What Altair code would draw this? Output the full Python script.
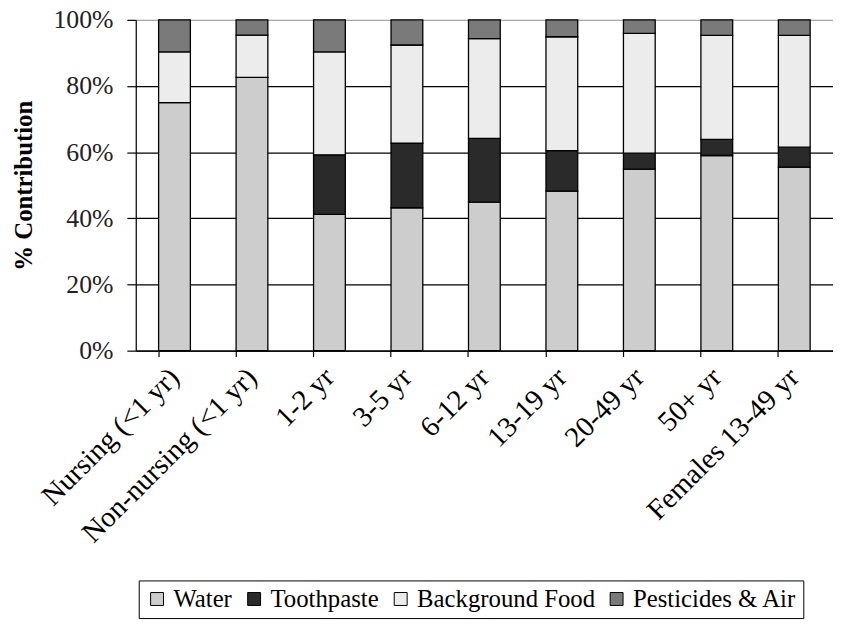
import altair as alt
import pandas as pd

categories = ["Nursing (<1 yr)", "Non-nursing (<1 yr)", "1-2 yr", "3-5 yr",
              "6-12 yr", "13-19 yr", "20-49 yr", "50+ yr", "Females 13-49 yr"]
sources = ["Water", "Toothpaste", "Background Food", "Pesticides & Air"]
water = [75.0, 82.6, 41.2, 43.2, 44.9, 48.2, 54.9, 59.0, 55.5]
toothpaste = [0.0, 0.0, 18.0, 19.5, 19.3, 12.3, 4.8, 4.9, 6.0]
background_food = [15.3, 12.8, 31.1, 29.7, 30.1, 34.4, 36.2, 31.4, 33.8]
pesticides_air = [9.7, 4.6, 9.7, 7.6, 5.7, 5.1, 4.1, 4.7, 4.7]
y_ticks = [0, 20, 40, 60, 80, 100]

rows = []
for s_i, (src, vals) in enumerate(zip(sources, [water, toothpaste, background_food, pesticides_air])):
    for c, v in zip(categories, vals):
        if v > 0:
            rows.append({"group": c, "source": src, "value": v, "order": s_i})
df = pd.DataFrame(rows)

serif = "Liberation Serif"

chart = alt.Chart(df).mark_bar(stroke="black", strokeWidth=1.3).encode(
    x=alt.X("group:N", sort=categories,
            scale=alt.Scale(paddingInner=0.59, paddingOuter=0.295),
            axis=alt.Axis(title=None, labelAngle=-45, labelAlign="right", labelBaseline="middle",
                          labelFont=serif, labelFontSize=29, labelColor="black",
                          labelPadding=16, labelLimit=500, bandPosition=0,
                          tickColor="black", tickSize=6, tickWidth=1.2,
                          domainColor="black", domainWidth=1.2, grid=False)),
    y=alt.Y("value:Q", stack="zero",
            scale=alt.Scale(domain=[0, 100], nice=False),
            axis=alt.Axis(values=y_ticks, labelExpr="datum.value + '%'",
                          title="% Contribution", titleFont=serif, titleFontSize=25,
                          titleFontWeight="bold", titleColor="black", titlePadding=17,
                          labelFont=serif, labelFontSize=26, labelColor="#222222",
                          labelPadding=14, tickColor="black", tickSize=9, tickWidth=1.2,
                          domainColor="black", domainWidth=1.2,
                          grid=True, gridWidth=1.2,
                          gridColor={"condition": {"test": "datum.value === 100", "value": "#a8a8a8"},
                                     "value": "black"})),
    color=alt.Color("source:N", sort=sources,
                    scale=alt.Scale(domain=sources,
                                    range=["#cdcdcd", "#2a2a2a", "#ececec", "#7a7a7a"]),
                    legend=alt.Legend(title=None, orient="none", legendX=3, legendY=566,
                                      direction="horizontal", symbolType="square",
                                      symbolSize=170, symbolStrokeColor="black",
                                      symbolStrokeWidth=1, labelFont=serif, labelFontSize=25,
                                      labelColor="black", labelOffset=4, columnPadding=9,
                                      strokeColor="black", fillColor="white", padding=6,
                                      labelLimit=400)),
    order=alt.Order("order:Q", sort="ascending"),
).properties(
    width=704, height=334,
    autosize=alt.AutoSizeParams(type="none"),
    padding={"left": 129, "top": 9, "right": 0, "bottom": 272},
).configure_view(stroke=None).configure(background="white")

chart.save("out.html", embed_options={"renderer": "svg", "actions": False})
